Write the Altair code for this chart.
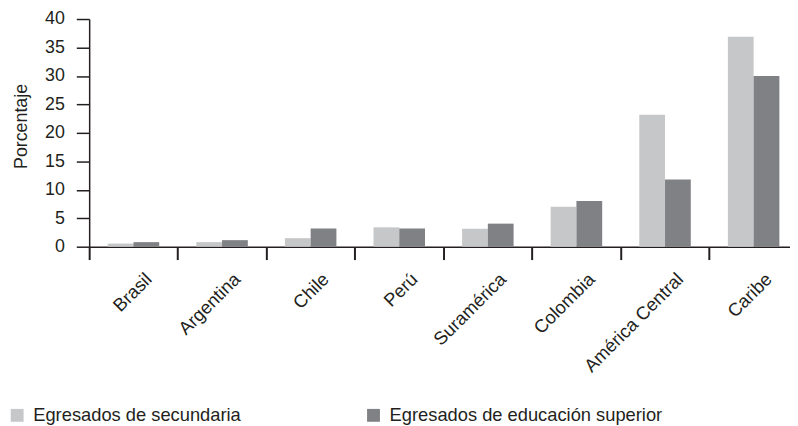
import altair as alt
import pandas as pd

categories = ["Brasil", "Argentina", "Chile", "Perú", "Suramérica",
              "Colombia", "América Central", "Caribe"]
secundaria = [0.55, 0.8, 1.5, 3.4, 3.15, 7.0, 23.2, 36.9]
superior = [0.8, 1.15, 3.2, 3.2, 4.05, 8.05, 11.8, 30.0]
series = ["Egresados de secundaria", "Egresados de educación superior"]
colors = ["#c6c7c9", "#808185"]
y_ticks = [0, 5, 10, 15, 20, 25, 30, 35, 40]

rows = []
for c, a, b in zip(categories, secundaria, superior):
    rows.append({"cat": c, "serie": series[0], "valor": a})
    rows.append({"cat": c, "serie": series[1], "valor": b})
df = pd.DataFrame(rows)

font = "Liberation Sans"
ink = "#231f20"

chart = alt.Chart(df).mark_bar().encode(
    x=alt.X("cat:N", sort=categories,
            scale=alt.Scale(range=[0, 716], paddingInner=0, paddingOuter=0),
            axis=alt.Axis(title=None, labelAngle=-45, bandPosition=0,
                          labelOffset=9, labelPadding=10, tickSize=13,
                          tickWidth=2, domainWidth=1.5, domainColor=ink,
                          tickColor=ink, labelColor=ink, labelFont=font,
                          labelFontSize=18.5)),
    xOffset=alt.XOffset("serie:N", sort=series,
                        scale=alt.Scale(paddingOuter=0.72, paddingInner=0)),
    y=alt.Y("valor:Q", scale=alt.Scale(domain=[0, 40]),
            axis=alt.Axis(title="Porcentaje", values=y_ticks, grid=False,
                          tickSize=13, tickWidth=1.5, domainWidth=1.5,
                          domainColor=ink, tickColor=ink, labelColor=ink,
                          labelFont=font, labelFontSize=18, labelPadding=12,
                          titleFont=font, titleFontSize=18,
                          titleFontWeight="normal", titleColor=ink,
                          titlePadding=14, titleY=108)),
    color=alt.Color("serie:N", sort=series,
                    scale=alt.Scale(domain=series, range=colors),
                    legend=alt.Legend(orient="none", legendX=-82, legendY=391,
                                      direction="horizontal", title=None,
                                      symbolType="square", symbolSize=169,
                                      symbolStrokeWidth=0, symbolOpacity=1,
                                      labelFont=font, labelFontSize=18.5,
                                      labelColor=ink, labelOffset=7,
                                      columnPadding=124, padding=0,
                                      labelLimit=400)),
).properties(
    width=708, height=230,
    padding={"left": 82, "top": 9, "right": 0, "bottom": 179},
    autosize=alt.AutoSizeParams(type="none"),
).configure_view(stroke=None)

chart.save("out.html", embed_options={"renderer": "svg", "actions": False})
